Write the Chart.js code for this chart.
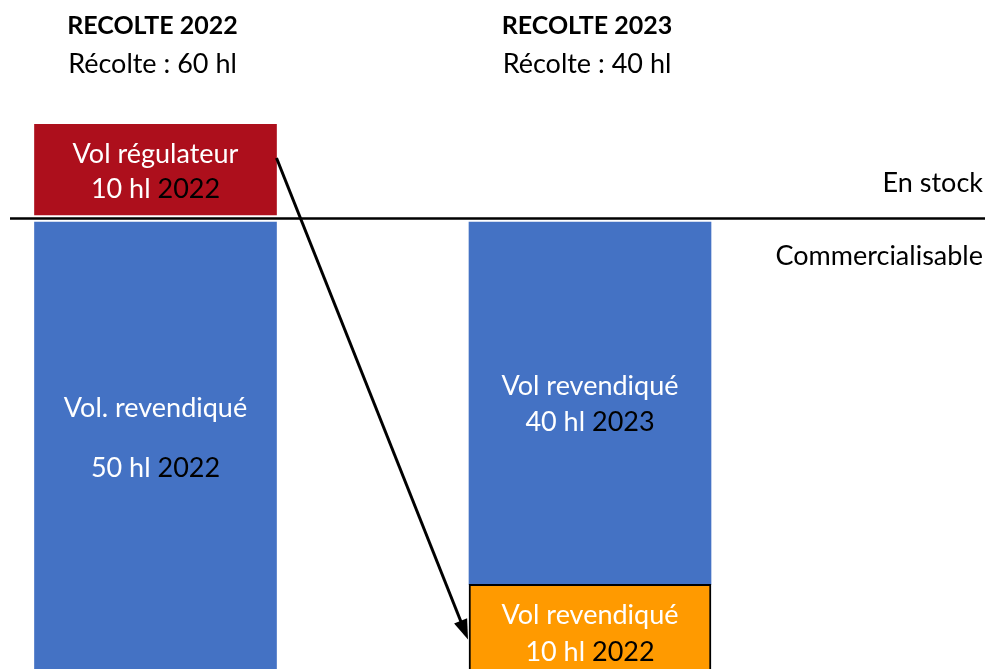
<!DOCTYPE html>
<html>
<head>
<meta charset="utf-8">
<script src="https://cdn.jsdelivr.net/npm/chart.js@4.4.1/dist/chart.umd.min.js"></script>
<style>
  html, body { margin: 0; padding: 0; background: #fff; overflow: hidden; }
  #wrap { width: 994px; height: 675px; position: relative; }
</style>
</head>
<body>
<div id="wrap"><canvas id="recolte"></canvas></div>
<script>
// Volumes in hl
const harvests = ['RECOLTE 2022', 'RECOLTE 2023'];
const harvestYears = ['2022', '2023'];
const harvestTotals = [60, 40];
const claimed = [50, 40];      // vol revendiqué of each harvest
const regulator = [10, 0];     // vol régulateur put in stock
const carriedOver = [0, 10];   // 2022 stock released with the 2023 harvest
const zoneLabels = ['En stock', 'Commercialisable'];

// small visual gap between the stock box and the sellable bars (hl)
const stockGap = 0.77;

const BLUE = '#4472C4';
const RED = '#AD0F1C';
const ORANGE = '#FF9A00';
const FONT = 'Lato, "Open Sans", sans-serif';

// floating bars [start, end]
const orangeData = carriedOver.map(v => v > 0 ? [0, v] : null);
const blueData = claimed.map((v, i) => [carriedOver[i], carriedOver[i] + v]);
const redData = regulator.map((v, i) => v > 0 ? [claimed[i] + stockGap, claimed[i] + stockGap + v] : null);

// draws a line made of coloured pieces, centred on x
function mixedLine(ctx, parts, x, y) {
    const total = parts.reduce((s, p) => s + ctx.measureText(p.t).width, 0);
    let cx = x - total / 2;
    parts.forEach(p => {
        ctx.fillStyle = p.c;
        ctx.fillText(p.t, cx, y);
        cx += ctx.measureText(p.t).width;
    });
}

const overlay = {
    id: 'overlay',
    afterDatasetsDraw(chart) {
        const ctx = chart.ctx;
        const y = chart.scales.y;
        const orange = chart.getDatasetMeta(0).data;
        const blue = chart.getDatasetMeta(1).data;
        const red = chart.getDatasetMeta(2).data;
        ctx.save();
        ctx.textBaseline = 'middle';
        ctx.textAlign = 'left';

        // headings
        harvests.forEach((h, i) => {
            const x = blue[i].x - 3;
            ctx.font = 'bold 25px ' + FONT;
            mixedLine(ctx, [{t: h, c: '#000'}], x, 26);
            ctx.font = '27px ' + FONT;
            mixedLine(ctx, [{t: 'Récolte : ' + harvestTotals[i] + ' hl', c: '#000'}], x, 64);
        });

        // separator stock / commercialisable
        const sepY = y.getPixelForValue(claimed[0] + stockGap / 2);
        ctx.strokeStyle = '#000';
        ctx.lineWidth = 2.5;
        ctx.beginPath();
        ctx.moveTo(10, sepY);
        ctx.lineTo(985, sepY);
        ctx.stroke();

        ctx.font = '27px ' + FONT;
        ctx.fillStyle = '#000';
        ctx.textAlign = 'right';
        ctx.fillText(zoneLabels[0], 983, sepY - 35);
        ctx.fillText(zoneLabels[1], 983, sepY + 38);
        ctx.textAlign = 'left';

        // labels inside the boxes
        ctx.font = '27px ' + FONT;
        const W = '#fff', K = '#000';
        const r = red[0];
        mixedLine(ctx, [{t: 'Vol régulateur', c: W}], r.x, r.y + (r.base - r.y) * 0.33);
        mixedLine(ctx, [{t: regulator[0] + ' hl ', c: W}, {t: harvestYears[0], c: K}], r.x, r.y + (r.base - r.y) * 0.72);

        const b0 = blue[0];
        mixedLine(ctx, [{t: 'Vol. revendiqué', c: W}], b0.x, 408);
        mixedLine(ctx, [{t: claimed[0] + ' hl ', c: W}, {t: harvestYears[0], c: K}], b0.x, 468);

        const b1 = blue[1];
        const mid1 = (b1.y + b1.base) / 2;
        mixedLine(ctx, [{t: 'Vol revendiqué', c: W}], b1.x, mid1 - 17);
        mixedLine(ctx, [{t: claimed[1] + ' hl ', c: W}, {t: harvestYears[1], c: K}], b1.x, mid1 + 19);

        const o = orange[1];
        mixedLine(ctx, [{t: 'Vol revendiqué', c: W}], o.x, o.y + 31);
        mixedLine(ctx, [{t: carriedOver[1] + ' hl ', c: W}, {t: harvestYears[0], c: K}], o.x, o.y + 68);

        // arrow from the stock box to the released volume
        const x0 = r.x + r.width / 2, y0 = r.y + (r.base - r.y) * 0.37;
        const x1 = o.x - o.width / 2 - 1, y1 = o.y + 55;
        const ang = Math.atan2(y1 - y0, x1 - x0);
        const head = 20, half = 7;
        ctx.strokeStyle = '#000';
        ctx.lineWidth = 3;
        ctx.beginPath();
        ctx.moveTo(x0, y0);
        ctx.lineTo(x1 - Math.cos(ang) * head * 0.8, y1 - Math.sin(ang) * head * 0.8);
        ctx.stroke();
        ctx.fillStyle = '#000';
        ctx.beginPath();
        ctx.moveTo(x1, y1);
        ctx.lineTo(x1 - Math.cos(ang) * head + Math.sin(ang) * half, y1 - Math.sin(ang) * head - Math.cos(ang) * half);
        ctx.lineTo(x1 - Math.cos(ang) * head - Math.sin(ang) * half, y1 - Math.sin(ang) * head + Math.cos(ang) * half);
        ctx.closePath();
        ctx.fill();

        ctx.restore();
    }
};

const chart = new Chart(document.getElementById('recolte'), {
    type: 'bar',
    data: {
        labels: harvests,
        datasets: [
            { label: 'Report 2022', data: orangeData, backgroundColor: ORANGE, borderColor: '#000', borderWidth: 2, borderSkipped: false, clip: false },
            { label: 'Vol revendiqué', data: blueData, backgroundColor: BLUE, borderWidth: 0, clip: false },
            { label: 'Vol régulateur', data: redData, backgroundColor: RED, borderWidth: 0, clip: false }
        ]
    },
    options: {
        responsive: true,
        maintainAspectRatio: false,
        animation: false,
        events: [],
        layout: { padding: { left: 155.5, right: 404, top: 0, bottom: 0 } },
        datasets: { bar: { barThickness: 242, grouped: false } },
        scales: {
            x: { display: false, offset: false, grid: { offset: false } },
            y: { display: false, min: 0, max: 675 / 9.06 }
        },
        plugins: {
            legend: { display: false },
            tooltip: { enabled: false }
        }
    },
    plugins: [overlay]
});
</script>
</body>
</html>
